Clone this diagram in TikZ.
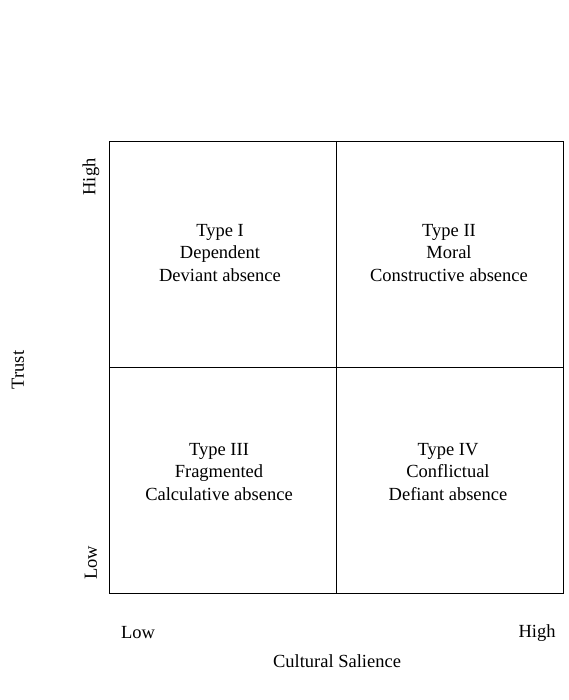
\documentclass[tikz,border=0pt]{standalone}
\usepackage{fontspec}
\setmainfont{Liberation Serif}
\begin{document}
\begin{tikzpicture}[x=1pt,y=-1pt,
  lbl/.style={font=\fontsize{18.5}{22.5}\selectfont, inner sep=0pt, align=center},
  grid/.style={draw=black, line width=0.9pt}]
\useasboundingbox (0,0) rectangle (569,700);
\coordinate (tl) at (109,141);
\coordinate (br) at (563,593);
\coordinate (mt) at (336,141);
\coordinate (mb) at (336,593);
\coordinate (ml) at (109,367);
\coordinate (mr) at (563,367);
\draw[grid] (tl) rectangle (br);
\draw[grid] (mt) -- (mb);
\draw[grid] (ml) -- (mr);
\node[lbl] (c1) at (220,253) {Type I\\Dependent\\Deviant absence};
\node[lbl] (c2) at (449,253) {Type II\\Moral\\Constructive absence};
\node[lbl] (c3) at (219,472) {Type III\\Fragmented\\Calculative absence};
\node[lbl] (c4) at (448,472) {Type IV\\Conflictual\\Defiant absence};
\node[lbl, rotate=90] (yh) at (91,177) {High};
\node[lbl, rotate=90] (yl) at (91,563) {Low};
\node[lbl, rotate=90] (yt) at (18,370) {Trust};
\node[lbl] (xl) at (138,633) {Low};
\node[lbl] (xh) at (537,633) {High};
\node[lbl] (xt) at (337,661) {Cultural Salience};
\end{tikzpicture}
\end{document}
